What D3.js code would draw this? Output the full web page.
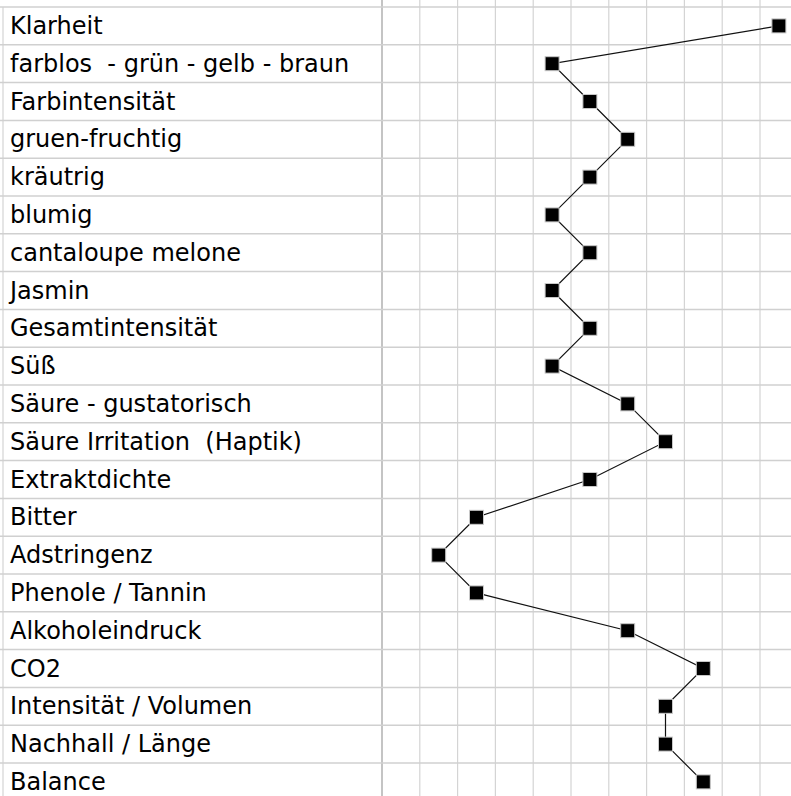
<!DOCTYPE html>
<html>
<head>
<meta charset="utf-8">
<script src="https://cdn.jsdelivr.net/npm/d3@7"></script>
<style>
  html, body { margin: 0; padding: 0; background: #fff; }
  svg { display: block; }
  .label { font-family: "DejaVu Sans", sans-serif; font-size: 24px; fill: #000; white-space: pre; }
</style>
</head>
<body>
<svg id="chart"></svg>
<script>
// attributes (rows, top to bottom)
const attributes = [
  'Klarheit',
  'farblos  - grün - gelb - braun',
  'Farbintensität',
  'gruen-fruchtig',
  'kräutrig',
  'blumig',
  'cantaloupe melone',
  'Jasmin',
  'Gesamtintensität',
  'Süß',
  'Säure - gustatorisch',
  'Säure Irritation  (Haptik)',
  'Extraktdichte',
  'Bitter',
  'Adstringenz',
  'Phenole / Tannin',
  'Alkoholeindruck',
  'CO2',
  'Intensität / Volumen',
  'Nachhall / Länge',
  'Balance'
];

// score per attribute (grid column index)
const scores = [10, 4, 5, 6, 5, 4, 5, 4, 5, 4, 6, 7, 5, 2, 1, 2, 6, 8, 7, 7, 8];

// scale steps (grid columns)
const steps = d3.range(0, 11);

const width = 791, height = 796;
const margin = { top: 7, left: 382 };
const rowH = 37.8;

const svg = d3.select('#chart')
  .attr('width', width)
  .attr('height', height);

const y = d3.scaleBand()
  .domain(attributes)
  .range([margin.top, margin.top + attributes.length * rowH]);

const x = d3.scaleBand()
  .domain(steps)
  .range([margin.left, margin.left + steps.length * rowH]);

const data = attributes.map((name, i) => ({ name, score: scores[i] }));

// grid
const grid = svg.append('g').attr('class', 'grid');

grid.selectAll('.vline')
  .data(steps.concat([steps.length]))
  .enter().append('line')
  .attr('class', 'vline')
  .attr('x1', d => d < steps.length ? x(d) : x.range()[1])
  .attr('x2', d => d < steps.length ? x(d) : x.range()[1])
  .attr('y1', 0)
  .attr('y2', height)
  .style('stroke', d => d === 0 ? '#c4c4c4' : '#d4d4d4')
  .style('stroke-width', d => d === 0 ? 2 : 1.2);

grid.append('line')
  .attr('x1', 3).attr('x2', 3)
  .attr('y1', margin.top).attr('y2', height)
  .style('stroke', '#d4d4d4')
  .style('stroke-width', 1.2);

grid.selectAll('.hline')
  .data(attributes)
  .enter().append('line')
  .attr('class', 'hline')
  .attr('x1', 0)
  .attr('x2', width)
  .attr('y1', d => y(d))
  .attr('y2', d => y(d))
  .style('stroke', '#d0d0d0')
  .style('stroke-width', 1.5);

// labels
svg.selectAll('.label')
  .data(attributes)
  .enter().append('text')
  .attr('class', 'label')
  .attr('x', 10)
  .attr('y', d => y(d) + 27)
  .text(d => d);

// profile line
const cx = d => x(d.score) + x.bandwidth() / 2;
const cy = d => y(d.name) + y.bandwidth() / 2;

svg.append('path')
  .datum(data)
  .attr('d', d3.line().x(cx).y(cy))
  .style('fill', 'none')
  .style('stroke', '#111')
  .style('stroke-width', 1.2);

// markers
const size = 14;
svg.selectAll('.marker')
  .data(data)
  .enter().append('rect')
  .attr('class', 'marker')
  .attr('x', d => cx(d) - size / 2)
  .attr('y', d => cy(d) - size / 2)
  .attr('width', size)
  .attr('height', size)
  .style('fill', '#000')
  .style('stroke', '#c8c8c8')
  .style('stroke-width', 1);
</script>
</body>
</html>
